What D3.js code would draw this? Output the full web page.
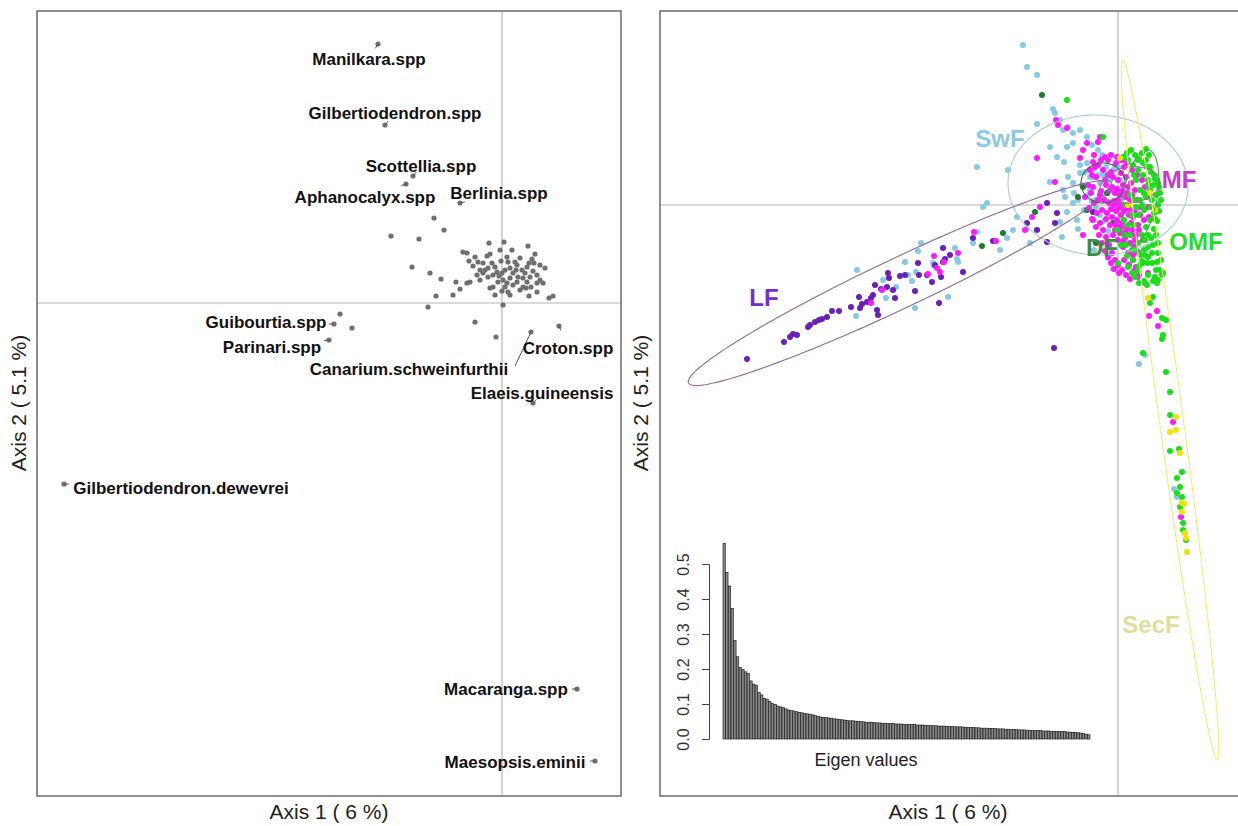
<!DOCTYPE html>
<html>
<head>
<meta charset="utf-8">
<script src="https://cdn.jsdelivr.net/npm/d3@7"></script>
<style>
  body { margin: 0; background: #fff; }
  text { font-family: "Liberation Sans", Arial, sans-serif; }
</style>
</head>
<body>
<div id="chart"></div>
<script>
// ---- left panel: species scores (Axis 1, Axis 2) ----
var labelled = [
  // name, point x, point y, label x, label y
  ["Manilkara.spp", -1.24, 2.59, -1.33, 2.44],
  ["Gilbertiodendron.spp", -1.17, 1.78, -1.07, 1.90],
  ["Scottellia.spp", -0.89, 1.27, -0.81, 1.37],
  ["Aphanocalyx.spp", -0.96, 1.19, -1.37, 1.06],
  ["Berlinia.spp", -0.42, 1.00, -0.03, 1.10],
  ["Guibourtia.spp", -1.68, -0.21, -2.36, -0.19],
  ["Parinari.spp", -1.73, -0.37, -2.30, -0.44],
  ["Canarium.schweinfurthii", 0.29, -0.29, -0.93, -0.66],
  ["Croton.spp", 0.57, -0.23, 0.66, -0.45],
  ["Elaeis.guineensis", 0.31, -1.00, 0.40, -0.90],
  ["Gilbertiodendron.dewevrei", -4.38, -1.81, -3.21, -1.85],
  ["Macaranga.spp", 0.75, -3.86, 0.04, -3.86],
  ["Maesopsis.eminii", 0.93, -4.58, 0.13, -4.59]
];

var otherSpecies = [
  [-1.11,0.67],[-0.83,0.64],[-0.58,0.73],[-0.68,0.85],[-0.90,0.36],[-0.72,0.30],[-0.61,0.24],
  [-0.46,0.21],[-0.42,0.14],[-0.49,0.08],[-0.66,0.07],[-0.74,-0.04],[-0.27,-0.19],[0.01,-0.02],
  [-0.13,0.60],[0.02,0.61],[0.26,0.57],[-0.39,0.51],[-0.35,0.50],[-0.27,0.46],[-0.33,0.42],
  [-0.29,0.37],[-0.12,0.49],[-0.15,0.47],[0.33,0.49],[0.30,0.44],[0.32,0.40],[0.27,0.40],
  [0.47,0.05],[0.51,0.07],[0.41,0.20],[0.35,0.11],[0.27,0.07],[0.06,0.11],[0.00,0.12],
  [-0.12,0.15],[-0.09,0.16],[0.05,0.46],[0.06,0.41],[-0.01,0.42],[-0.22,0.33],[-0.19,0.30],
  [-0.25,0.28],[-0.32,0.21],[-0.35,0.20],[-0.22,0.23],[-0.14,0.26],[-0.09,0.28],[-0.05,0.31],
  [0.00,0.30],[0.03,0.33],[0.08,0.35],[0.11,0.30],[0.16,0.26],[0.20,0.33],[0.23,0.30],
  [0.15,0.38],[0.21,0.25],[0.25,0.21],[0.28,0.26],[0.31,0.32],[0.35,0.28],[0.38,0.23],
  [0.35,0.20],[0.15,0.21],[0.08,0.25],[0.01,0.23],[-0.04,0.21],[-0.07,0.36],[-0.10,0.40],
  [-0.14,0.35],[-0.17,0.33],[0.21,0.16],[0.18,0.13],[0.11,0.18],[0.05,0.20],[0.25,0.36],
  [0.29,0.16],[-1.62,-0.11],[-1.50,-0.25],[-0.06,-0.34],[0.13,0.41],[0.18,0.45],[-0.02,0.53],
  [0.10,0.53],[-0.24,0.41],[-0.19,0.40],[0.43,0.35],[0.38,0.38],[0.03,0.16],[-0.03,0.27],
  [0.14,0.33],[0.24,0.15],[0.08,0.08],[-0.07,0.08]
];

// ---- right panel: site scores by forest type (x100) ----
var groups = ["SwF", "LF", "DF", "MF", "OMF", "SecF"];
var groupColors = ["#87c9e3", "#6a1fb5", "#1e7b2a", "#ff1aff", "#18e018", "#f2e200"];
var labelColors = ["#8ec8df", "#7230c6", "#3f8b3f", "#c23ec9", "#25dd25", "#dede9c"];
var ellipseColors = ["#a9cdd2", "#8c6c99", "#3d6a4a", "#9b6aa0", "#3fae3f", "#f0ee7a"];

var sitePts = {
  SwF: "-95,160 -91,138 -81,130 -81,81 -141,38 -110,35 -65,96 -63,92 -58,85 -55,75 -50,78 -45,72 " +
       "-68,58 -61,48 -54,43 -51,58 -45,62 -38,75 -31,68 -131,2 -135,-2 -68,23 -55,15 -50,28 -45,22 " +
       "-53,8 -51,-7 -58,-17 -45,2 -41,-15 -40,-24 -56,-32 -101,-12 -91,-24 -111,-33 -105,-25 -141,-27 " +
       "-145,-38 5,-37 -31,42 -38,32 -25,28 -5,35 2,25 19,-5 17,-38 -18,22 -28,15 5,7 -261,-65 " +
       "-262,-111 -235,-75 -232,-93 -222,-82 -210,-70 -206,-76 -203,-103 -202,-67 -200,-46 -197,-38 " +
       "-213,-57 -185,-58 -184,-61 -170,-92 -163,-43 -161,-54 -160,-57 -5,-64 10,-59 27,-150 21,-159 " +
       "56,-284 59,-292 -118,-45 -88,-38 -24,-45 -10,-53 -15,30 -10,12 -3,40 -22,5 " +
       "-38,40 -33,33 -28,28 -24,36 -20,30 -36,20 -30,10 -26,4 -22,-2 -18,-10 -14,-16 -10,-26 " +
       "-34,-5 -40,5 -44,12 -8,25 -4,35 0,38 -12,38 -16,50 3,45 8,50 -20,55 -26,60",
  LF: "-61,-8 -71,2 -63,-18 -81,-25 -91,-18 -71,-37 -25,-7 -125,-36 -145,-33 -175,-43 -155,-67 -64,-143 " +
      "-371,-154 -334,-137 -328,-132 -325,-129 -321,-130 -310,-122 -308,-120 -303,-117 -299,-115 " +
      "-296,-114 -291,-112 -286,-106 -279,-106 -267,-102 -259,-92 -258,-103 -256,-99 -251,-97 -247,-93 " +
      "-245,-90 -243,-80 -241,-105 -240,-110 -237,-84 -231,-82 -230,-68 -229,-73 -225,-85 -223,-93 " +
      "-218,-71 -213,-70 -203,-86 -200,-58 -199,-70 -191,-70 -186,-77 -183,-60 -179,-98 -177,-72 " +
      "-175,-57 -173,-54 -168,-50",
  DF: "-76,110 -40,8 -35,18 -83,-7 -115,-28 -136,-41 -31,-5 -5,-18 -11,12 -22,-38",
  MF: "-62,85 -60,80 -51,77 -81,47 -63,23 -18,68 -31,62 -35,55 -38,47 -25,43 -20,63 -78,-2 -86,-12 " +
      "-93,-25 -35,-30 -25,-15 -247,-98 -236,-85 -190,-69 -184,-51 -181,-63 -178,-67 -174,-57 -160,-48 " +
      "-144,-27 -122,-36 5,-37 15,-50 30,-68 20,-72 27,-78 39,-106 31,-111 40,-121 55,-217 63,-312 " +
      "-20,40 -15,35 -10,30 -5,28 0,25 5,20 10,18 -12,20 -8,15 -3,12 2,10 8,8 12,5 -18,10 -14,5 -9,2 " +
      "-4,0 1,-3 6,-6 11,-10 15,-12 -16,-5 -11,-8 -6,-12 -1,-15 4,-18 9,-22 14,-25 18,-30 -8,-20 " +
      "-3,-25 2,-28 7,-33 12,-38 16,-42 20,-47 -13,25 -7,33 3,32 8,28 13,22 17,15 -22,28 -25,18 -20,5 " +
      "0,5 5,0 10,-2 3,-10 -2,-6 20,-20 22,-10 25,-35 10,-48 15,-55 5,-42 0,-35 -5,-30 24,-58 18,-62 " +
      "-28,35 -24,50 -10,45 -2,42 6,38 " +
      "-30,20 -27,12 -24,2 -21,-8 -18,-18 -15,-25 -12,-32 -9,-40 -6,-48 -3,-55 0,-60 4,-65 8,-70 " +
      "12,-74 -26,30 -23,38 -17,45 -13,48 -7,50 -1,48 4,45 9,42 14,35 19,30 24,25 27,18 29,8 30,-2 " +
      "31,-12 -33,8 -29,-3 -26,-14 -22,-22 -19,-30 -16,-38 -13,-46 -10,-52 -7,-58 -4,-64 1,-68 6,-55 " +
      "11,-60 16,-66 21,-70 -6,18 -1,16 4,14 9,12 14,10 -4,4 1,2 6,-1 11,-4 16,-6 -2,-20 3,-22 8,-26 " +
      "13,-30 -12,-14 -7,-4 -17,14 19,5 23,-2 26,-15 21,-25 17,-35 13,-18",
  OMF: "10,45 15,40 20,35 25,30 30,25 35,20 38,10 40,0 36,-8 32,-15 28,-22 24,-30 20,-38 26,-45 30,-52 " +
       "34,-58 38,-65 30,-70 22,-60 14,-45 12,-30 16,-20 20,-10 24,0 28,8 32,15 18,25 22,15 26,-5 " +
       "30,-30 35,-40 40,-48 12,10 8,0 16,5 6,-15 36,30 40,22 42,12 28,45 32,38 -51,105 -15,68 " +
       "0,-58 9,-51 15,-55 20,-62 29,-58 34,-48 39,-57 42,-65 45,-68 37,-72 39,-78 29,-80 32,-98 " +
       "35,-92 44,-113 48,-115 45,-130 44,-134 25,-148 48,-167 52,-187 52,-210 52,-246 61,-244 " +
       "64,-267 59,-273 62,-282 59,-288 64,-292 62,-302 65,-318 68,-335 65,-325 -1,-25 3,-40 " +
       "5,48 9,52 13,55 17,50 21,46 25,42 29,38 33,33 37,26 41,18 43,5 41,-6 39,-16 36,-24 33,-33 " +
       "30,-42 27,-50 24,-56 20,-66 17,-72 14,-68 10,-62 8,-40 6,-30 10,-20 14,-10 18,-2 22,5 26,12 " +
       "30,20 34,5 38,-30 40,-38 43,-55 44,-70 40,-75 35,-76 26,-76 21,-78 18,-45 22,-50 27,-35 " +
       "33,-2 37,-14 20,45 24,52 28,56 31,50 16,30",
  SecF: "30,-93 58,-212 52,-227 58,-225 62,-248 64,-298 66,-299 64,-307 67,-328 69,-347 68,-333 " +
        "2,47 32,12 10,0 37,-5"
};

// group ellipses: centre x, centre y, half axis a, half axis b, angle (deg), x100
var ellipses = {
  SwF: [-20, 20, 90, 70, -3],
  LF: [-218, -78, 234, 25, 25.3],
  DF: [-15, 22, 22, 20, 0],
  MF: [12, 20, 30, 18, 8],
  OMF: [22, 8, 48, 17, 80],
  SecF: [52, -205, 353, 12, -82.3]
};

// group label positions, x100
var groupLabelPos = {
  SwF: [-118, 67], LF: [-354, -92], DF: [-16, -42], MF: [61, 26], OMF: [78, -36], SecF: [33, -419]
};

// ---- eigenvalue barplot ----
var eigenValues = [
  .559,.476,.437,.373,.281,.235,.204,.199,.192,.188,
  .166,.157,.154,.133,.126,.116,.114,.107,.102,.099,
  .094,.092,.090,.086,.083,.081,.080,.078,.076,.075,
  .073,.072,.071,.069,.067,.065,.063,.062,.061,.060,
  .059,.058,.057,.056,.055,.054,.053,.052,.052,.051,
  .050,.050,.049,.048,.048,.047,.047,.046,.046,.045,
  .045,.044,.044,.044,.043,.043,.043,.042,.042,.041,
  .041,.041,.040,.040,.040,.039,.039,.038,.038,.038,
  .037,.037,.037,.036,.036,.036,.035,.035,.035,.034,
  .034,.033,.033,.033,.032,.032,.031,.031,.031,.030,
  .030,.030,.029,.029,.029,.028,.028,.027,.027,.027,
  .026,.026,.026,.025,.025,.025,.024,.024,.024,.023,
  .023,.023,.022,.022,.022,.021,.021,.021,.020,.020,
  .019,.019,.018,.017,.016,.014,.012
];
var eigenTicks = [0, 0.1, 0.2, 0.3, 0.4, 0.5];

var W = 1238, H = 826;
var svg = d3.select("#chart").append("svg")
  .attr("width", W).attr("height", H)
  .style("background", "#fff");

// ===== left panel =====
var xL = d3.scaleLinear().domain([-4.65, 1.19]).range([37, 621]);
var yL = d3.scaleLinear().domain([-4.93, 2.92]).range([796, 11]);

var left = svg.append("g");
left.append("line")
  .attr("x1", xL(0)).attr("x2", xL(0)).attr("y1", yL.range()[1]).attr("y2", yL.range()[0])
  .attr("stroke", "#b5b5b5").attr("stroke-width", 1.2);
left.append("line")
  .attr("y1", yL(0)).attr("y2", yL(0)).attr("x1", xL.range()[0]).attr("x2", xL.range()[1])
  .attr("stroke", "#b5b5b5").attr("stroke-width", 1.2);

left.selectAll("circle.sp")
  .data(otherSpecies.concat(labelled.map(function(d) { return [d[1], d[2]]; })))
  .enter().append("circle")
  .attr("cx", function(d) { return xL(d[0]); })
  .attr("cy", function(d) { return yL(d[1]); })
  .attr("r", 2.6)
  .attr("fill", "#6f6f6f");

// leader lines from the point towards its label
left.selectAll("line.lead")
  .data(labelled)
  .enter().append("line")
  .attr("x1", function(d) { return xL(d[1]); })
  .attr("y1", function(d) { return yL(d[2]); })
  .attr("x2", function(d) {
    var dx = xL(d[3]) - xL(d[1]), dy = yL(d[4]) - yL(d[2]);
    if (d[0] == "Canarium.schweinfurthii") return xL(0.13);
    return xL(d[1]) + 5 * dx / Math.hypot(dx, dy);
  })
  .attr("y2", function(d) {
    var dx = xL(d[3]) - xL(d[1]), dy = yL(d[4]) - yL(d[2]);
    if (d[0] == "Canarium.schweinfurthii") return yL(-0.63);
    return yL(d[2]) + 5 * dy / Math.hypot(dx, dy);
  })
  .attr("stroke", "#555").attr("stroke-width", 1);

left.selectAll("text.lab")
  .data(labelled)
  .enter().append("text")
  .attr("x", function(d) { return xL(d[3]); })
  .attr("y", function(d) { return yL(d[4]); })
  .attr("text-anchor", "middle")
  .attr("dominant-baseline", "central")
  .style("font-size", "17px")
  .style("font-weight", "bold")
  .attr("fill", "#111")
  .text(function(d) { return d[0]; });

left.append("rect")
  .attr("x", 37).attr("y", 11).attr("width", 584).attr("height", 785)
  .attr("fill", "none").attr("stroke", "#555").attr("stroke-width", 1.3);

left.append("text")
  .attr("x", 329).attr("y", 819)
  .attr("text-anchor", "middle")
  .style("font-size", "21px").attr("fill", "#222")
  .text("Axis 1 ( 6 %)");
left.append("text")
  .attr("transform", "translate(26,403) rotate(-90)")
  .attr("text-anchor", "middle")
  .style("font-size", "21px").attr("fill", "#222")
  .text("Axis 2 ( 5.1 %)");

// ===== right panel =====
var xR = d3.scaleLinear().domain([-4.58, 1.19]).range([660, 1237]);
var yR = d3.scaleLinear().domain([-5.91, 1.94]).range([796, 11]);

var right = svg.append("g");
right.append("line")
  .attr("x1", xR(0)).attr("x2", xR(0)).attr("y1", 11).attr("y2", 796)
  .attr("stroke", "#b5b5b5").attr("stroke-width", 1.2);
right.append("line")
  .attr("y1", yR(0)).attr("y2", yR(0)).attr("x1", 660).attr("x2", W)
  .attr("stroke", "#b5b5b5").attr("stroke-width", 1.2);

function parsePts(s) {
  return s.trim().split(/\s+/).map(function(p) {
    var v = p.split(",");
    return [+v[0] / 100, +v[1] / 100];
  });
}

groups.forEach(function(g, i) {
  right.append("g").selectAll("circle")
    .data(parsePts(sitePts[g]))
    .enter().append("circle")
    .attr("cx", function(d) { return xR(d[0]); })
    .attr("cy", function(d) { return yR(d[1]); })
    .attr("r", 3)
    .attr("fill", groupColors[i]);
});

var ellLine = d3.line()
  .x(function(d) { return xR(d[0]); })
  .y(function(d) { return yR(d[1]); })
  .curve(d3.curveLinearClosed);

groups.forEach(function(g, i) {
  var e = ellipses[g];
  var cx = e[0] / 100, cy = e[1] / 100, a = e[2] / 100, b = e[3] / 100;
  var th = e[4] * Math.PI / 180;
  var pts = d3.range(0, 2 * Math.PI, Math.PI / 90).map(function(t) {
    var u = a * Math.cos(t), v = b * Math.sin(t);
    return [cx + u * Math.cos(th) - v * Math.sin(th), cy + u * Math.sin(th) + v * Math.cos(th)];
  });
  right.append("path")
    .attr("d", ellLine(pts))
    .attr("fill", "none")
    .attr("stroke", ellipseColors[i])
    .attr("stroke-width", 1.1);
});

groups.forEach(function(g, i) {
  var p = groupLabelPos[g];
  right.append("text")
    .attr("x", xR(p[0] / 100)).attr("y", yR(p[1] / 100))
    .attr("text-anchor", "middle")
    .attr("dominant-baseline", "central")
    .style("font-size", "24px").style("font-weight", "bold")
    .attr("fill", labelColors[i])
    .text(g);
});

right.append("rect")
  .attr("x", 660).attr("y", 11).attr("width", 600).attr("height", 785)
  .attr("fill", "none").attr("stroke", "#555").attr("stroke-width", 1.3);

right.append("text")
  .attr("x", 948).attr("y", 819)
  .attr("text-anchor", "middle")
  .style("font-size", "21px").attr("fill", "#222")
  .text("Axis 1 ( 6 %)");
right.append("text")
  .attr("transform", "translate(648,403) rotate(-90)")
  .attr("text-anchor", "middle")
  .style("font-size", "21px").attr("fill", "#222")
  .text("Axis 2 ( 5.1 %)");

// ===== eigenvalue inset =====
var xE = d3.scaleBand().domain(d3.range(eigenValues.length)).range([723, 1090]).paddingInner(0.12);
var yE = d3.scaleLinear().domain([0, 0.5]).range([739, 564]);

var inset = svg.append("g");
inset.selectAll("rect")
  .data(eigenValues)
  .enter().append("rect")
  .attr("x", function(d, i) { return xE(i); })
  .attr("y", function(d) { return yE(d); })
  .attr("width", xE.bandwidth())
  .attr("height", function(d) { return yE(0) - yE(d); })
  .attr("fill", "#8a8a8a")
  .attr("stroke", "#111")
  .attr("stroke-width", 0.6);

var eAxis = inset.append("g")
  .attr("transform", "translate(709,0)")
  .call(d3.axisLeft(yE).tickValues(eigenTicks).tickFormat(d3.format(".1f")).tickSizeOuter(0).tickSize(7));
eAxis.select(".domain").attr("stroke", "#444");
eAxis.selectAll(".tick line").attr("stroke", "#444");
eAxis.selectAll(".tick text")
  .attr("transform", "rotate(-90)")
  .attr("x", 0).attr("y", -20)
  .attr("dy", "0")
  .style("text-anchor", "middle")
  .style("font-size", "16px")
  .style("font-family", "Liberation Sans, Arial, sans-serif")
  .attr("fill", "#333");

inset.append("text")
  .attr("x", 866).attr("y", 766)
  .attr("text-anchor", "middle")
  .style("font-size", "18px").attr("fill", "#222")
  .text("Eigen values");
</script>
</body>
</html>
